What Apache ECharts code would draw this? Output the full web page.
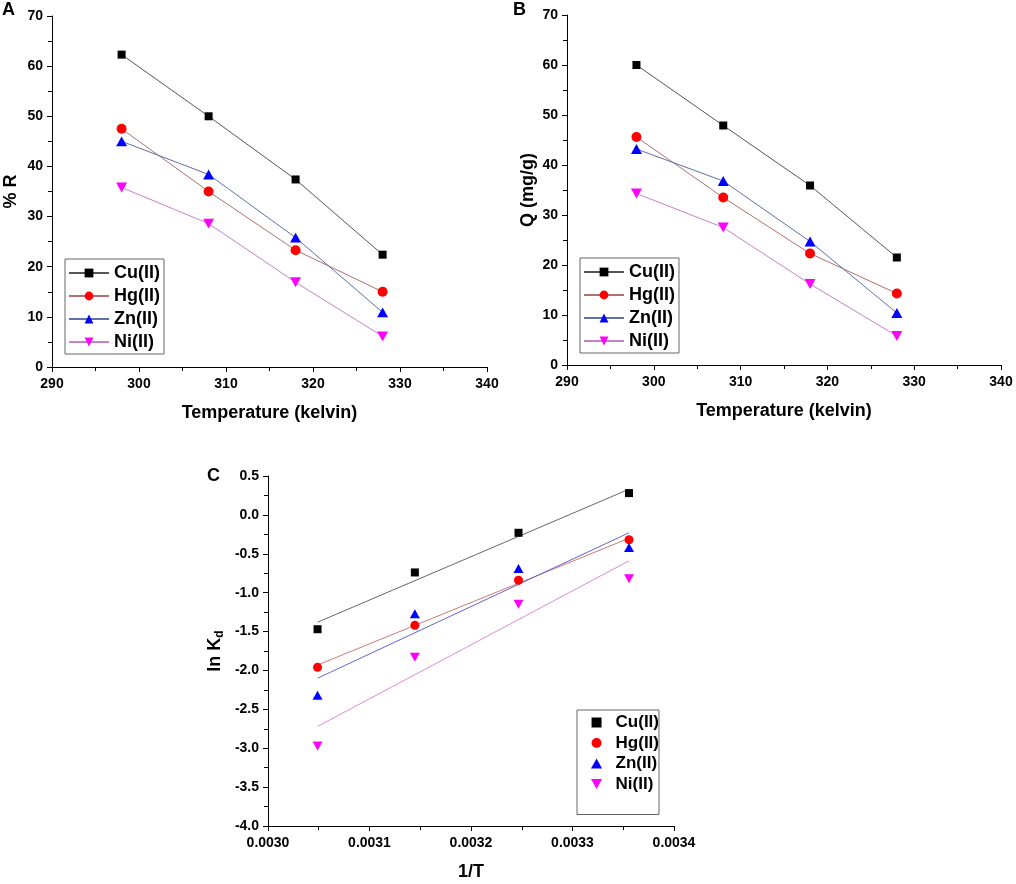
<!DOCTYPE html>
<html>
<head>
<meta charset="utf-8">
<script src="https://cdn.jsdelivr.net/npm/echarts@6/dist/echarts.min.js"></script>
<style>html,body{margin:0;padding:0;background:#fff}#c{width:1016px;height:884px}</style>
</head>
<body>
<div id="c"></div>
<script>
// ---- data ----
const metals = ['Cu(II)', 'Hg(II)', 'Zn(II)', 'Ni(II)'];
const temps = [298, 308, 318, 328];
// Panel A: % R
const rCu = [62.3, 50.0, 37.4, 22.4];
const rHg = [47.5, 35.0, 23.3, 15.0];
const rZn = [45.0, 38.4, 25.8, 10.9];
const rNi = [35.8, 28.6, 16.9, 6.1];
// Panel B: Q (mg/g)
const qCu = [60.0, 47.9, 35.9, 21.5];
const qHg = [45.6, 33.5, 22.3, 14.3];
const qZn = [43.2, 36.8, 24.7, 10.4];
const qNi = [34.3, 27.5, 16.2, 5.8];
// Panel C: ln Kd vs 1/T
const invT = [0.0030488, 0.0031447, 0.0032468, 0.0033557];
const kCu = [-1.47, -0.74, -0.23, 0.28];
const kHg = [-1.96, -1.42, -0.84, -0.32];
const kZn = [-2.32, -1.27, -0.69, -0.42];
const kNi = [-2.97, -1.83, -1.15, -0.82];
// fitted line end values (at first and last 1/T)
const fitCu = [-1.38, 0.33];
const fitHg = [-1.93, -0.30];
const fitZn = [-2.10, -0.23];
const fitNi = [-2.72, -0.59];

// ---- styles ----
const sqr = 'path://M0,0 L10,0 L10,10 L0,10 Z';
const upTri = 'path://M5,0 L10,9 L0,9 Z';
const downTri = 'path://M0,0 L10,0 L5,9 Z';
const sym = [
  {symbol: sqr, size: 8, color: '#000000', line: '#555555', fitLine: '#666666'},
  {symbol: 'circle', size: 10, color: '#ff0000', line: '#b07070', fitLine: '#d07878'},
  {symbol: upTri, size: 11, color: '#0000ff', line: '#6070a8', fitLine: '#6464d0'},
  {symbol: downTri, size: 11, color: '#ff00ff', line: '#c880c8', fitLine: '#e088e0'}
];
const FONT = 'Liberation Sans, Arial, sans-serif';
const pair = (xs, ys) => xs.map((x, i) => [x, ys[i]]);

function axisCommon() {
  return {
    axisLine: {show: true, onZero: false, lineStyle: {color: '#000', width: 1}},
    axisTick: {show: true, inside: false, length: 5, lineStyle: {color: '#000', width: 1}},
    minorTick: {show: true, splitNumber: 2, length: 4, lineStyle: {color: '#000', width: 1}},
    splitLine: {show: false},
    axisLabel: {color: '#000', fontSize: 14, fontWeight: 'bold', fontFamily: FONT, margin: 10},
    nameTextStyle: {color: '#000', fontSize: 18, fontWeight: 'bold', fontFamily: FONT},
    nameLocation: 'middle'
  };
}

const xAxes = [
  Object.assign(axisCommon(), {type: 'value', gridIndex: 0, min: 290, max: 340, interval: 10, name: 'Temperature (kelvin)', nameGap: 37}),
  Object.assign(axisCommon(), {type: 'value', gridIndex: 1, min: 290, max: 340, interval: 10, name: 'Temperature (kelvin)', nameGap: 37}),
  Object.assign(axisCommon(), {type: 'value', gridIndex: 2, min: 0.0030, max: 0.0034, interval: 0.0001, name: '1/T', nameGap: 37})
];
xAxes[2].axisLabel = Object.assign({}, xAxes[2].axisLabel, {formatter: v => v.toFixed(4)});

const yAxes = [
  Object.assign(axisCommon(), {type: 'value', gridIndex: 0, min: 0, max: 70, interval: 10, name: '% R', nameGap: 32}),
  Object.assign(axisCommon(), {type: 'value', gridIndex: 1, min: 0, max: 70, interval: 10, name: 'Q (mg/g)', nameGap: 30}),
  Object.assign(axisCommon(), {type: 'value', gridIndex: 2, min: -4.0, max: 0.5, interval: 0.5, name: 'ln K{sub|d}', nameGap: 42})
];
yAxes.forEach(a => { a.axisLabel = Object.assign({}, a.axisLabel, {margin: 9}); });
yAxes[2].axisLabel = Object.assign({}, yAxes[2].axisLabel, {formatter: v => v.toFixed(1)});
yAxes[2].nameTextStyle = Object.assign({}, yAxes[2].nameTextStyle, {
  rich: {sub: {fontSize: 12, fontWeight: 'bold', fontFamily: FONT, color: '#000', verticalAlign: 'bottom', padding: [9, 0, 0, 0]}}
});

const series = [];
const panelA = [rCu, rHg, rZn, rNi];
const panelB = [qCu, qHg, qZn, qNi];
const panelC = [kCu, kHg, kZn, kNi];
const fits = [fitCu, fitHg, fitZn, fitNi];

function lineSeries(prefix, idx, arr, k) {
  return {
    name: prefix + '|' + metals[k], type: 'line', xAxisIndex: idx, yAxisIndex: idx,
    data: pair(temps, arr), symbol: sym[k].symbol, symbolSize: sym[k].size, symbolKeepAspect: true,
    itemStyle: {color: sym[k].color, opacity: 1}, lineStyle: {color: sym[k].line, width: 1},
    showSymbol: true, animation: false, z: 3
  };
}
panelA.forEach((a, k) => series.push(lineSeries('A', 0, a, k)));
panelB.forEach((a, k) => series.push(lineSeries('B', 1, a, k)));
panelC.forEach((a, k) => {
  series.push({
    name: 'C|' + metals[k], type: 'scatter', xAxisIndex: 2, yAxisIndex: 2,
    data: pair(invT, a), symbol: sym[k].symbol, symbolSize: sym[k].size - (k === 0 ? 0 : 1),
    symbolKeepAspect: true,
    itemStyle: {color: sym[k].color, opacity: 1}, animation: false, z: 3
  });
});
fits.forEach((f, k) => {
  series.push({
    name: 'fit' + k, type: 'line', xAxisIndex: 2, yAxisIndex: 2,
    data: [[invT[0], f[0]], [invT[3], f[1]]], showSymbol: false, symbol: 'none',
    lineStyle: {color: sym[k].fitLine, width: 1}, animation: false, z: 2
  });
});

function legendAB(prefix, left, top) {
  return {
    data: metals.map(m => prefix + '|' + m), orient: 'vertical', left: left, top: top,
    formatter: n => n.split('|')[1], itemWidth: 40, itemHeight: 11, itemGap: 5,
    padding: [5, 4, 3, 3], borderColor: '#666', borderWidth: 1, selectedMode: false,
    symbolKeepAspect: true,
    textStyle: {color: '#000', fontSize: 18, fontWeight: 'bold', fontFamily: FONT}
  };
}

const option = {
  backgroundColor: '#fff',
  animation: false,
  grid: [
    {left: 52, top: 16, width: 435, height: 351},
    {left: 567, top: 15, width: 434, height: 350},
    {left: 268, top: 476, width: 406, height: 350}
  ],
  xAxis: xAxes,
  yAxis: yAxes,
  legend: [
    legendAB('A', 65, 259),
    legendAB('B', 580, 258),
    {
      data: metals.map(m => 'C|' + m), orient: 'vertical', left: 577, top: 710,
      formatter: n => n.split('|')[1], itemWidth: 28, itemHeight: 10, itemGap: 3.5,
      padding: [4, 0, 22, 14], borderColor: '#666', borderWidth: 1, selectedMode: false,
      symbolKeepAspect: true,
      textStyle: {color: '#000', fontSize: 17, fontWeight: 'bold', fontFamily: FONT}
    }
  ],
  graphic: [
    {type: 'text', left: 2, top: 1, style: {text: 'A', font: 'bold 18px ' + FONT, fill: '#000'}},
    {type: 'text', left: 513, top: 1, style: {text: 'B', font: 'bold 18px ' + FONT, fill: '#000'}},
    {type: 'text', left: 207, top: 467, style: {text: 'C', font: 'bold 18px ' + FONT, fill: '#000'}}
  ],
  series: series
};

const chart = echarts.init(document.getElementById('c'), null, {renderer: 'canvas'});
chart.setOption(option);
</script>
</body>
</html>
